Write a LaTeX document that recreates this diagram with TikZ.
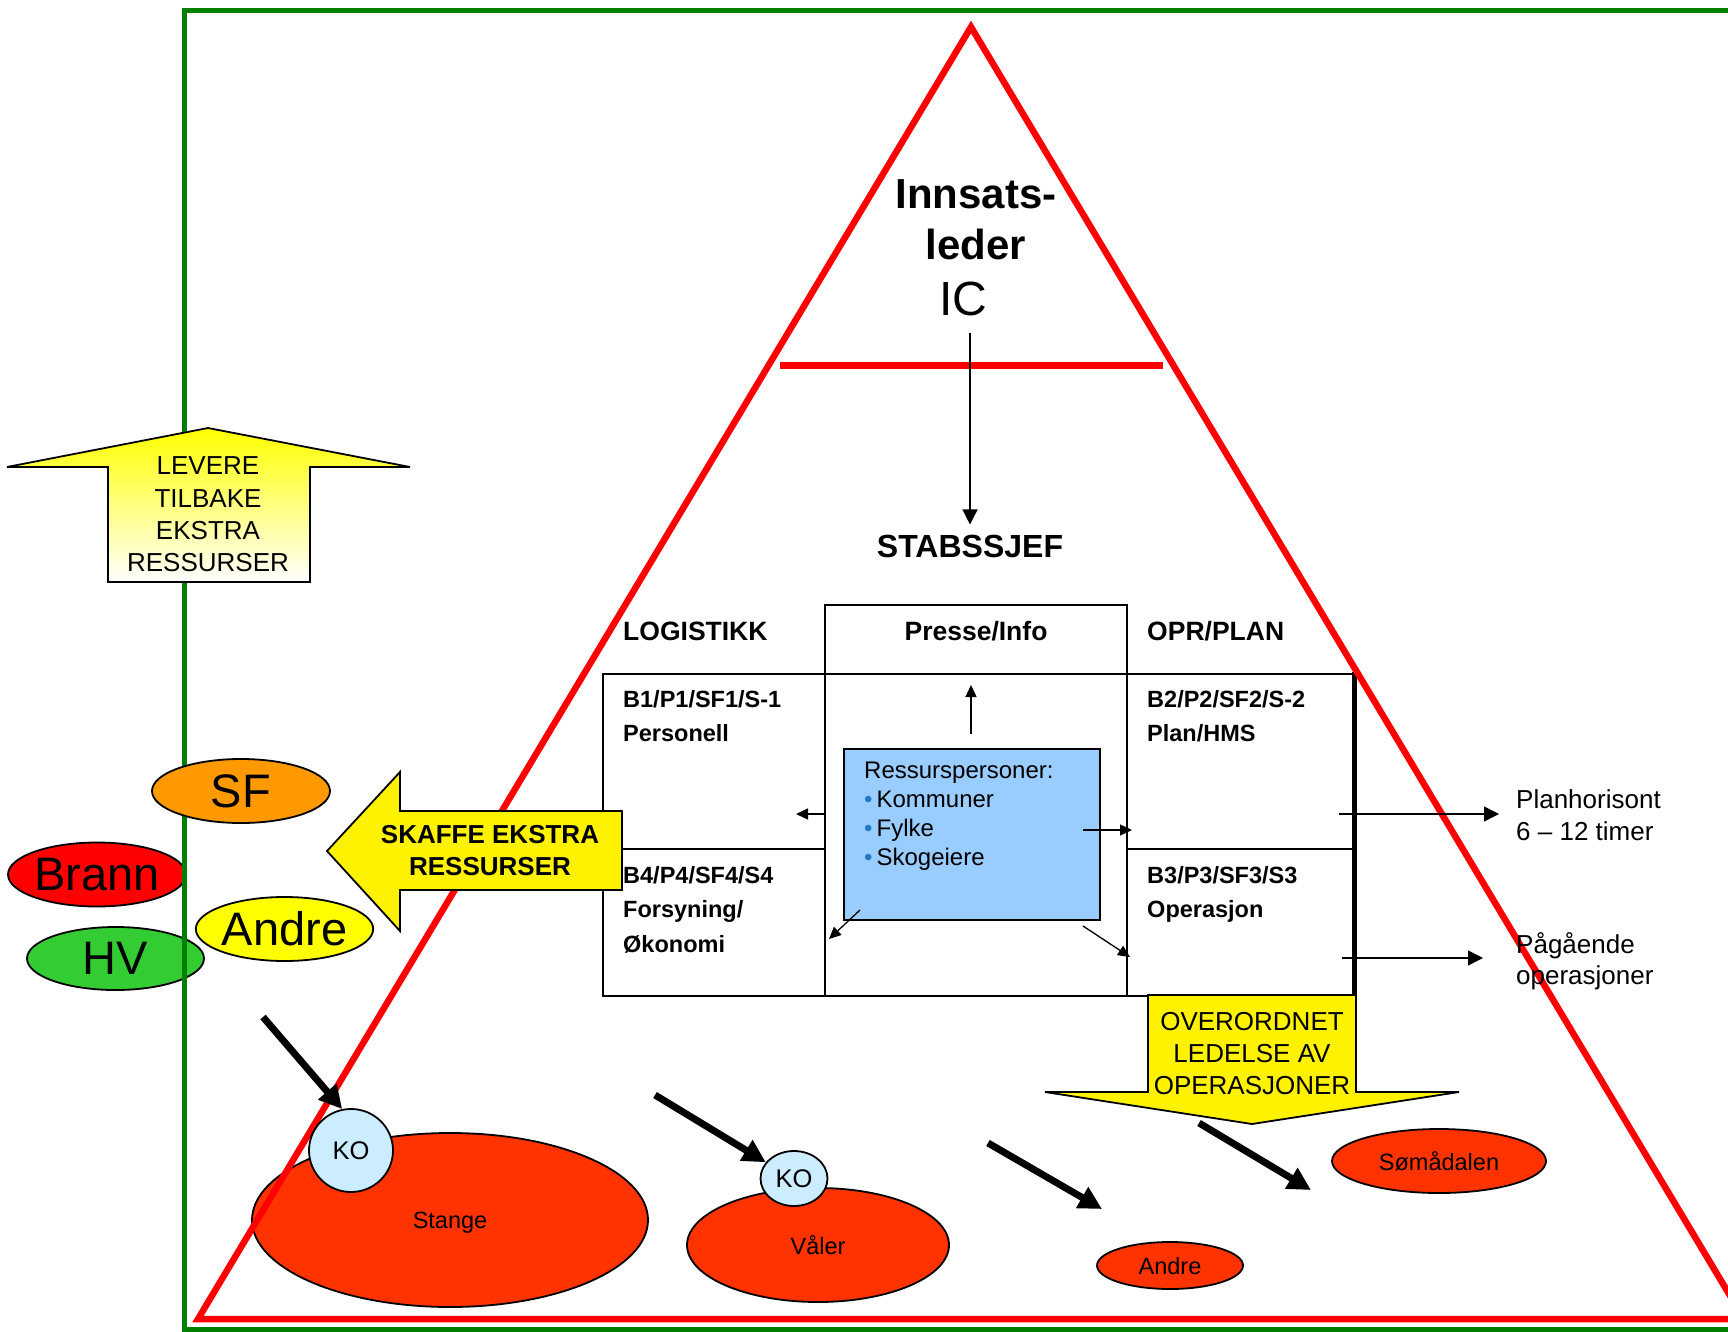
\documentclass[tikz,border=0pt]{standalone}
\usepackage{fontspec}
\setmainfont{Liberation Sans}
\usetikzlibrary{arrows.meta,shapes.geometric}
\definecolor{framegreen}{HTML}{008000}
\definecolor{sforange}{HTML}{FF9900}
\definecolor{brannred}{HTML}{FF0000}
\definecolor{andreyellow}{HTML}{FFFF00}
\definecolor{hvgreen}{HTML}{33CC33}
\definecolor{townred}{HTML}{FF3300}
\definecolor{kofill}{HTML}{CCECFF}
\definecolor{resblue}{HTML}{99CCFF}
\definecolor{bulletblue}{HTML}{1F7AC8}
\newcommand{\fsz}[2]{\fontsize{#1}{#2}\selectfont}
\newcommand{\blt}{\textcolor{bulletblue}{\textbullet}\hspace{4pt}}
\tikzset{
    area/.style={ellipse, draw, line width=1.8pt, inner sep=0pt, fill=#1},
    unitname/.style={font=\fsz{47}{54}},
    town/.style={font=\fsz{23.5}{28}, text depth=0pt},
    ko/.style={area=kofill, font=\fsz{25.5}{30}},
    cellhead/.style={inner sep=0pt, font=\fsz{26.5}{30}\bfseries},
    celltext/.style={anchor=north west, align=left, inner sep=0pt, font=\fsz{23.5}{34.5}\bfseries},
    tableline/.style={line width=2.5pt},
    flow/.style={line width=1.3pt, -{Triangle[length=15pt,width=15pt]}},
    hint/.style={line width=1.3pt, -{Triangle[length=12pt,width=11pt]}},
    push/.style={line width=7pt, -{Triangle[length=23pt,width=23pt]}},
    blockarrow/.style={draw, line width=1.8pt, line join=miter},
    arrowtext/.style={align=center, inner sep=0pt, font=\fsz{26}{32.3}}
}

\begin{document}
\begin{tikzpicture}[x=1pt, y=-1pt]
    \useasboundingbox (0,0) rectangle (1728,1332);
    \clip (0,0) rectangle (1728,1332);

    % Etater bak rammen.
    \node[area=brannred, unitname, minimum width=178pt, minimum height=64pt] (brann) at (97,874.5) {Brann};
    \node[area=hvgreen, unitname, minimum width=177pt, minimum height=63pt] (hv) at (115.5,958.5) {HV};

    % Ramme.
    \draw[framegreen, line width=5pt] (1740,11) -- (184,11) -- (184,1329) -- (1740,1329);

    % Stabens celler.
    \draw[tableline] (825,674) rectangle (1127,605);
    \draw[tableline] (603,674) rectangle (1353,996);
    \draw[tableline] (825,674) -- (825,996) (1127,674) -- (1127,996);
    \draw[tableline] (603,849) -- (825,849) (1127,849) -- (1353,849);
    \draw[line width=5pt] (1354,672) -- (1354,998);

    % Innsatsomraader.
    \node[area=townred, town, minimum width=396pt, minimum height=174pt] (stange) at (450,1220) {Stange};
    \node[area=townred, town, minimum width=262pt, minimum height=114pt] (valer) at (818,1245) {Våler};
    \node[area=townred, town, minimum width=146pt, minimum height=47pt] (andreomr) at (1170,1265.5) {Andre};
    \node[area=townred, town, minimum width=214pt, minimum height=64pt] (somadalen) at (1439,1161) {Sømådalen};

    % Trekant.
    \draw[red, line width=6.5pt, line join=miter] (971,27) -- (1744,1319) -- (198,1319) -- cycle;
    \draw[red, line width=6.5pt] (780,365.5) -- (1163,365.5);

    % KO.
    \node[ko, minimum width=84pt, minimum height=83pt] (kostange) at (351,1150.5) {KO};
    \node[ko, minimum width=67pt, minimum height=55pt] (kovaler) at (794,1178.5) {KO};

    \node[area=sforange, unitname, minimum width=178pt, minimum height=64pt] (sf) at (241,791) {SF};
    \node[area=andreyellow, unitname, minimum width=177pt, minimum height=64pt] (andre) at (284.5,929) {Andre};

    % Blokkpiler.
    \path[blockarrow, top color=yellow, bottom color=white] (208,428) -- (410,467) -- (310,467)
        -- (310,582) -- (108,582) -- (108,467) -- (7,467) -- cycle;
    \node[arrowtext] (levere) at (208,514.5) {LEVERE\\TILBAKE\\EKSTRA\\RESSURSER};

    \path[blockarrow, fill=yellow] (327,851) -- (400,772) -- (400,811) -- (622,811)
        -- (622,890) -- (400,890) -- (400,931) -- cycle;
    \node[arrowtext, font=\fsz{26}{32}\bfseries] (skaffe) at (490,851) {SKAFFE EKSTRA\\RESSURSER};

    \path[blockarrow, fill=yellow] (1148,995) -- (1356,995) -- (1356,1092) -- (1459,1092)
        -- (1252,1124) -- (1045,1092) -- (1148,1092) -- cycle;
    \node[arrowtext, font=\fsz{26}{32}] (overordnet) at (1252,1053.5) {OVERORDNET\\LEDELSE AV\\OPERASJONER};

    % Ledelse.
    \node[align=center, inner sep=0pt, font=\fsz{42}{51}\bfseries] (leader) at (976,219.5) {Innsats-\\leder};
    \node[inner sep=0pt, font=\fsz{48}{56}] (ic) at (963,298.5) {IC};
    \node[inner sep=0pt, font=\fsz{32}{36}\bfseries] (stab) at (970,546) {STABSSJEF};
    \draw[flow, shorten <=17pt, shorten >=10pt] (stab.north |- ic.south) -- (stab.north);

    % Tekst i cellene.
    \node[cellhead, anchor=west] (logistikk) at (623,631.5) {LOGISTIKK};
    \node[cellhead] (presse) at (976,631.5) {Presse/Info};
    \node[cellhead, anchor=west] (oprplan) at (1147,631.5) {OPR/PLAN};
    \node[celltext] (b1) at (623,690) {B1/P1/SF1/S-1\\Personell};
    \node[celltext] (b4) at (623,866) {B4/P4/SF4/S4\\Forsyning/\\Økonomi};
    \node[celltext] (b2) at (1147,690) {B2/P2/SF2/S-2\\Plan/HMS};
    \node[celltext] (b3) at (1147,866) {B3/P3/SF3/S3\\Operasjon};

    % Ressurspersoner.
    \node[draw, line width=2.5pt, fill=resblue, minimum width=256pt, minimum height=171pt, inner sep=0pt] (res) at (972,834.5) {};
    \node[anchor=north west, align=left, inner sep=0pt, font=\fsz{24}{29}] (reslist) at (864,762)
        {Ressurspersoner:\\\blt Kommuner\\\blt Fylke\\\blt Skogeiere};

    \coordinate (upA) at (971,734);   \coordinate (upB) at (971,685);
    \coordinate (leftA) at (825,814); \coordinate (leftB) at (796,814);
    \coordinate (rightA) at (1083,830); \coordinate (rightB) at (1132,830);
    \coordinate (dlA) at (860,910);   \coordinate (dlB) at (829,939);
    \coordinate (drA) at (1083,926);  \coordinate (drB) at (1130,957);
    \foreach \s/\e in {upA/upB, leftA/leftB, rightA/rightB, dlA/dlB, drA/drB}
        \draw[hint] (\s) -- (\e);

    % Horisont.
    \node[anchor=north west, align=left, inner sep=0pt, font=\fsz{26}{32}] (plan) at (1516,789) {Planhorisont\\6 – 12 timer};
    \node[anchor=north west, align=left, inner sep=0pt, font=\fsz{26}{31}] (pagaende) at (1516,932) {Pågående\\operasjoner};
    \coordinate (planA) at (1339,814); \coordinate (planB) at (1499,814);
    \coordinate (opsA) at (1342,958);  \coordinate (opsB) at (1483,958);
    \draw[flow] (planA) -- (planB);
    \draw[flow] (opsA) -- (opsB);

    % Piler mot omraadene.
    \coordinate (toStange) at (263,1017);
    \coordinate (toValer) at (655,1095);
    \coordinate (toAndreA) at (988,1143); \coordinate (toAndreB) at (1102,1209);
    \coordinate (toSomA) at (1199,1123);  \coordinate (toSomB) at (1311,1190);
    \draw[push] (toStange) -- (kostange.102);
    \draw[push] (toValer) -- (kovaler.150);
    \draw[push] (toAndreA) -- (toAndreB);
    \draw[push] (toSomA) -- (toSomB);
\end{tikzpicture}
\end{document}
